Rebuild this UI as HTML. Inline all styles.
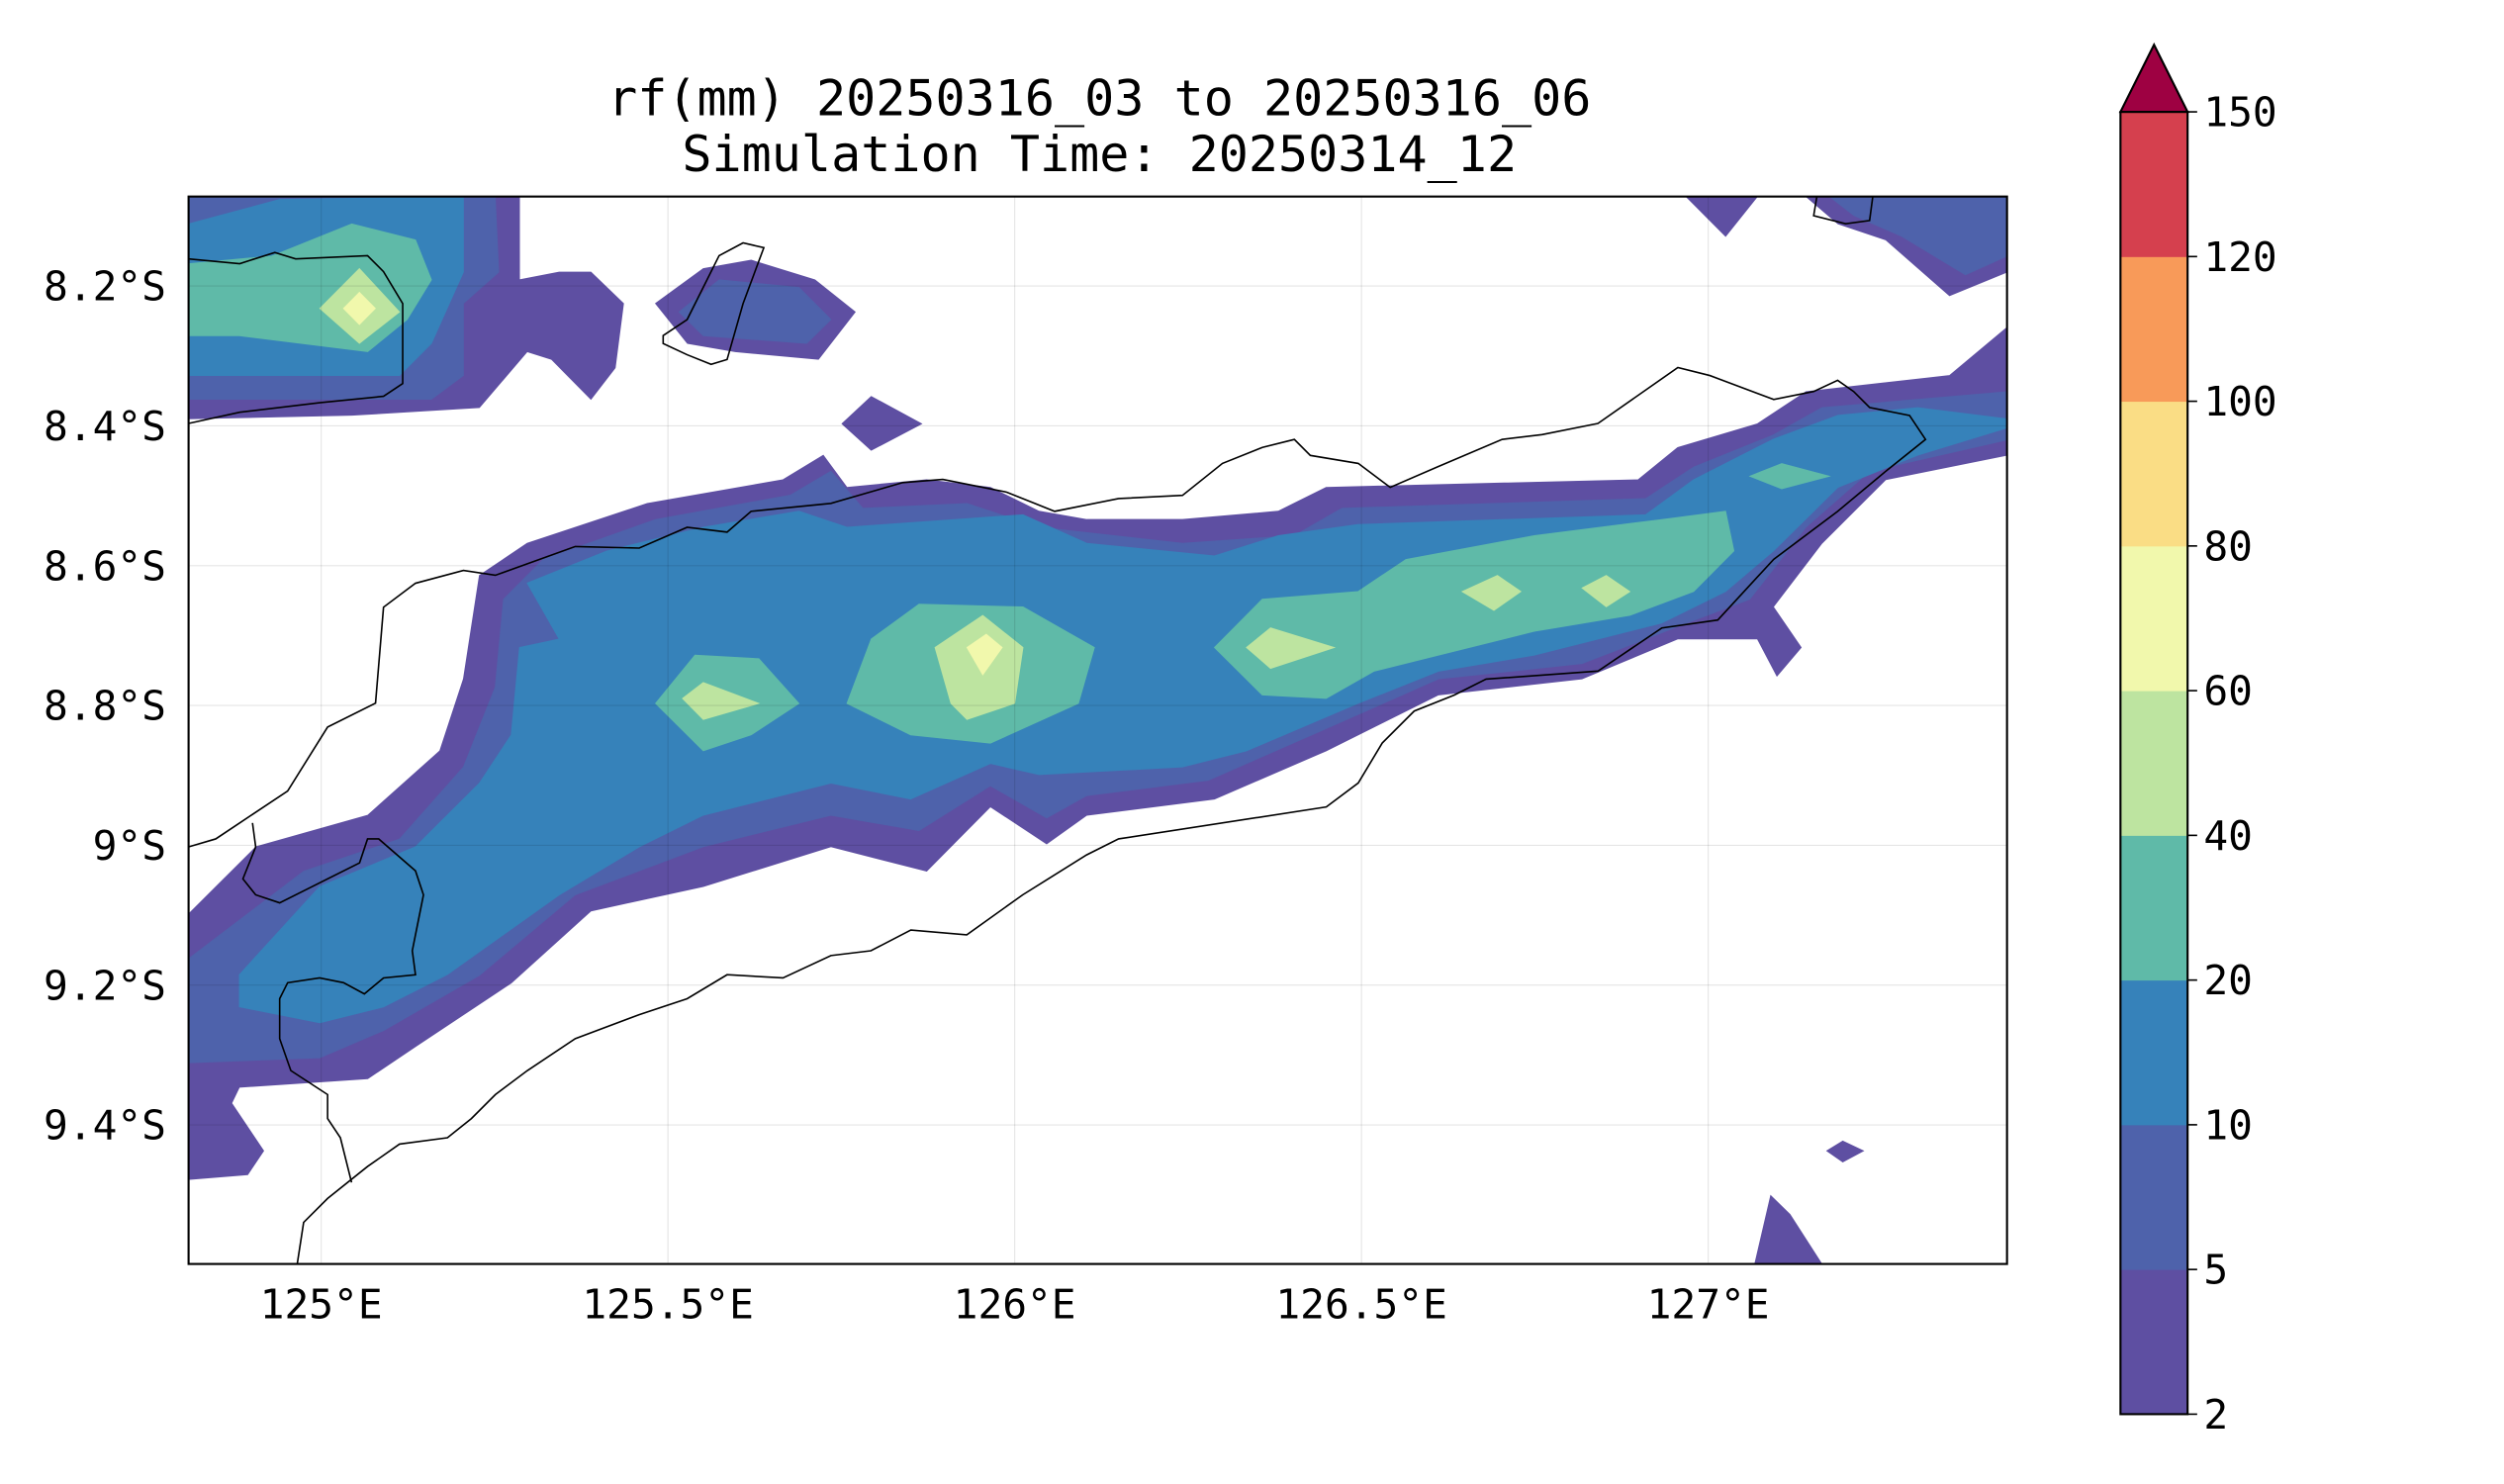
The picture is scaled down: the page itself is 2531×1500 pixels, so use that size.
<!DOCTYPE html>
<html><head><meta charset="utf-8">
<style>html,body{margin:0;padding:0;background:#fff;}svg{display:block;}text{font-family:"DejaVu Sans Mono","Liberation Mono",monospace;fill:#000;}</style>
</head><body>
<svg id="chart" width="2531" height="1500" viewBox="0 0 1567 928.7" xmlns="http://www.w3.org/2000/svg">
<text x="688" y="72" font-size="31" text-anchor="middle">rf(mm) 20250316_03 to 20250316_06</text>
<text x="688" y="107" font-size="31" text-anchor="middle">Simulation Time: 20250314_12</text>
<defs><clipPath id="plotclip"><rect x="118" y="123" width="1138" height="668"/></clipPath></defs>
<g id="fills" clip-path="url(#plotclip)"></g>
<g id="grid"></g>
<g clip-path="url(#plotclip)" fill="none" stroke="#000" stroke-width="1">
<path d="M118,530 L135,525 150,515 180,495 205,455 235,440 240,380 260,365 290,357 310,360 360,342 400,343 430,330 455,333 470,320 520,315 565,302 590,300 630,308 660,320 700,312 740,310 765,290 790,280 810,275 820,285 850,290 870,305 900,292 940,275 965,272 1000,265 1050,230 1070,235 1110,250 1135,245 1150,238 1160,245 1170,255 1195,260 1205,275 1180,295 1150,320 1110,350 1075,388 1040,393 1000,420 930,425 910,435 885,445 865,465 850,490 830,505 700,525 680,535 640,560 605,585 570,582 545,595 520,598 490,612 455,610 430,625 400,635 360,650 330,670 310,685 295,700 280,712 250,716 230,730 205,750 190,765 186,791"/>
<path d="M158,515 L160,530 152,550 160,560 175,565 195,555 225,540 230,525 237,525 260,545 265,560 258,595 260,610 240,612 228,622 215,615 200,612 180,615 175,625 175,650 182,670 205,685 205,700 213,712 220,740"/>
<path d="M118,162 L150,165 172,158 185,162 230,160 240,170 252,190 252,240 240,248 200,252 150,258 118,265"/>
<path d="M415,210 L430,200 450,160 465,152 478,155 465,190 455,225 445,228 430,222 415,215 Z"/>
<path d="M1137,123 L1135,135 1155,140 1170,138 1172,123"/>
</g>
<rect x="118" y="123" width="1138" height="668" fill="none" stroke="#000" stroke-width="1.3"/>
<g id="ticks"></g>
<g id="cbar"></g>
</svg>
<script>
const lonTicks=[125,125.5,126,126.5,127];
const lonLabels=["125°E","125.5°E","126°E","126.5°E","127°E"];
const latTicks=[8.2,8.4,8.6,8.8,9.0,9.2,9.4];
const latLabels=["8.2°S","8.4°S","8.6°S","8.8°S","9°S","9.2°S","9.4°S"];
const levels=[2,5,10,20,40,60,80,100,120,150];
const levelColors=["#5e4fa2","#4e62ab","#3682ba","#5fbaa8","#bde4a0","#f1f8ac","#fadd85","#f89a59","#d5404e"];
const extendColor="#9e0142";
const contourLevel2=[
[[124.809,9.098],[124.906,9.002],[125.067,8.957],[125.171,8.865],[125.205,8.762],[125.228,8.614],[125.297,8.568],[125.470,8.511],[125.666,8.477],[125.724,8.442],[125.758,8.488],[125.873,8.477],[125.965,8.488],[126.035,8.522],[126.104,8.534],[126.242,8.534],[126.380,8.522],[126.449,8.488],[126.899,8.477],[126.956,8.431],[127.071,8.397],[127.141,8.351],[127.348,8.328],[127.431,8.259],[127.431,8.442],[127.256,8.477],[127.164,8.568],[127.094,8.659],[127.134,8.717],[127.099,8.758],[127.071,8.705],[126.956,8.705],[126.818,8.762],[126.611,8.785],[126.449,8.865],[126.288,8.934],[126.104,8.957],[126.046,8.998],[125.965,8.945],[125.873,9.037],[125.735,9.002],[125.551,9.059],[125.389,9.094],[125.274,9.197],[125.136,9.288],[125.067,9.334],[124.882,9.346],[124.871,9.369],[124.917,9.437],[124.894,9.471],[124.809,9.478]],
[[124.809,8.072],[125.286,8.072],[125.286,8.191],[125.343,8.180],[125.389,8.180],[125.436,8.225],[125.424,8.317],[125.389,8.362],[125.332,8.305],[125.297,8.294],[125.228,8.374],[125.044,8.385],[124.809,8.390]],
[[125.482,8.225],[125.551,8.175],[125.620,8.163],[125.712,8.191],[125.770,8.237],[125.717,8.305],[125.597,8.294],[125.528,8.282]],
[[125.751,8.397],[125.793,8.358],[125.866,8.397],[125.793,8.435]],
[[126.968,8.072],[127.071,8.072],[127.025,8.129]],
[[127.141,8.072],[127.431,8.072],[127.431,8.180],[127.348,8.214],[127.256,8.134],[127.187,8.111]],
[[127.067,9.599],[127.090,9.501],[127.118,9.528],[127.164,9.599]],
[[127.171,9.437],[127.194,9.423],[127.224,9.437],[127.194,9.453]]
];
const contourLevel5=[
[[124.809,9.162],[124.975,9.037],[125.113,8.991],[125.205,8.888],[125.251,8.774],[125.263,8.648],[125.320,8.591],[125.482,8.534],[125.677,8.499],[125.735,8.465],[125.781,8.518],[125.931,8.511],[126.035,8.545],[126.242,8.568],[126.403,8.557],[126.472,8.518],[126.910,8.504],[126.979,8.459],[127.094,8.413],[127.164,8.374],[127.431,8.351],[127.431,8.420],[127.233,8.465],[127.141,8.545],[127.060,8.648],[126.956,8.687],[126.818,8.740],[126.611,8.762],[126.438,8.838],[126.279,8.907],[126.104,8.929],[126.046,8.961],[125.965,8.915],[125.862,8.979],[125.735,8.957],[125.551,9.002],[125.366,9.071],[125.228,9.186],[125.090,9.265],[124.998,9.304],[124.809,9.311]],
[[124.809,8.072],[125.251,8.072],[125.256,8.180],[125.205,8.225],[125.205,8.328],[125.159,8.362],[124.809,8.362]],
[[125.516,8.237],[125.574,8.191],[125.689,8.202],[125.735,8.248],[125.700,8.282],[125.551,8.271]],
[[127.175,8.072],[127.431,8.072],[127.431,8.157],[127.371,8.184],[127.279,8.129],[127.210,8.099]]
];
const contourLevel10=[
[[124.882,9.185],[124.998,9.059],[125.136,9.002],[125.228,8.911],[125.274,8.842],[125.286,8.717],[125.343,8.705],[125.297,8.625],[125.412,8.579],[125.551,8.545],[125.689,8.522],[125.758,8.545],[126.012,8.527],[126.104,8.568],[126.288,8.586],[126.380,8.557],[126.495,8.541],[126.910,8.527],[126.979,8.477],[127.094,8.419],[127.187,8.385],[127.302,8.374],[127.431,8.390],[127.431,8.403],[127.302,8.442],[127.187,8.488],[127.094,8.579],[127.025,8.637],[126.933,8.682],[126.749,8.728],[126.611,8.751],[126.495,8.797],[126.334,8.865],[126.242,8.888],[126.035,8.899],[125.965,8.883],[125.850,8.934],[125.735,8.911],[125.551,8.957],[125.459,9.002],[125.343,9.071],[125.182,9.185],[125.090,9.231],[124.998,9.254],[124.882,9.231]],
[[124.809,8.111],[124.940,8.076],[125.205,8.072],[125.205,8.180],[125.159,8.282],[125.113,8.328],[124.809,8.328]]
];
const contourLevel20=[
[[125.758,8.797],[125.793,8.705],[125.862,8.655],[126.012,8.659],[126.115,8.717],[126.092,8.797],[125.965,8.854],[125.850,8.842]],
[[125.482,8.797],[125.539,8.728],[125.631,8.733],[125.689,8.797],[125.620,8.842],[125.551,8.865]],
[[126.288,8.717],[126.357,8.648],[126.495,8.637],[126.564,8.591],[126.749,8.557],[126.933,8.534],[127.025,8.522],[127.037,8.579],[126.979,8.637],[126.887,8.671],[126.749,8.694],[126.611,8.728],[126.518,8.751],[126.449,8.790],[126.357,8.785]],
[[124.809,8.168],[124.929,8.157],[125.044,8.111],[125.136,8.134],[125.159,8.191],[125.124,8.248],[125.067,8.294],[124.882,8.271],[124.809,8.271]],
[[127.060,8.472],[127.106,8.454],[127.175,8.472],[127.106,8.490]]
];
const contourLevel40=[
[[125.885,8.717],[125.954,8.671],[126.012,8.717],[126.000,8.797],[125.931,8.820],[125.908,8.797]],
[[125.521,8.790],[125.551,8.767],[125.631,8.797],[125.551,8.820]],
[[126.334,8.717],[126.369,8.689],[126.461,8.717],[126.369,8.747]],
[[126.645,8.637],[126.696,8.614],[126.730,8.637],[126.691,8.664]],
[[126.818,8.632],[126.853,8.614],[126.887,8.637],[126.853,8.659]],
[[124.998,8.232],[125.055,8.175],[125.113,8.237],[125.055,8.282]]
];
const contourLevel60=[
[[125.931,8.717],[125.959,8.698],[125.982,8.717],[125.954,8.756]],
[[125.032,8.232],[125.055,8.209],[125.078,8.232],[125.055,8.255]]
];
const NS="http://www.w3.org/2000/svg";
function xs(lon){return 201+(lon-125)*434;}
function ys(lat){return 179+(lat-8.2)*437.5;}
const fills=document.getElementById('fills');
const layers=[contourLevel2,contourLevel5,contourLevel10,contourLevel20,contourLevel40,contourLevel60];
layers.forEach((layer,li)=>{
  layer.forEach((poly,pi)=>{
    const p=document.createElementNS(NS,'polygon');
    p.setAttribute('points',poly.map(q=>xs(q[0]).toFixed(1)+','+ys(q[1]).toFixed(1)).join(' '));
    p.setAttribute('fill',levelColors[li]);
    p.setAttribute('stroke',levelColors[li]);
    p.setAttribute('stroke-width','0.5');
    
    
    fills.appendChild(p);
  });
});
const grid=document.getElementById('grid'),ticks=document.getElementById('ticks');
lonTicks.forEach((v,i)=>{
  const l=document.createElementNS(NS,'line');
  l.setAttribute('x1',xs(v));l.setAttribute('x2',xs(v));l.setAttribute('y1',123);l.setAttribute('y2',791);
  l.setAttribute('stroke','#000');l.setAttribute('stroke-opacity','0.1');l.setAttribute('stroke-width','0.7');
  
  
  grid.appendChild(l);
  const t=document.createElementNS(NS,'text');
  t.setAttribute('x',xs(v));t.setAttribute('y',825);t.setAttribute('font-size','25.5');t.setAttribute('text-anchor','middle');
  t.textContent=lonLabels[i];
  
  
  ticks.appendChild(t);
});
latTicks.forEach((v,i)=>{
  const l=document.createElementNS(NS,'line');
  l.setAttribute('y1',ys(v));l.setAttribute('y2',ys(v));l.setAttribute('x1',118);l.setAttribute('x2',1256);
  l.setAttribute('stroke','#000');l.setAttribute('stroke-opacity','0.1');l.setAttribute('stroke-width','0.7');
  
  
  grid.appendChild(l);
  const t=document.createElementNS(NS,'text');
  t.setAttribute('x',104);t.setAttribute('y',ys(v)+9);t.setAttribute('font-size','25.5');t.setAttribute('text-anchor','end');
  t.textContent=latLabels[i];
  
  
  ticks.appendChild(t);
});
const cb=document.getElementById('cbar');
const cbTop=70,cbBot=885,cbX=1327,cbW=42;
function cy(i){return cbBot-i*(cbBot-cbTop)/(levels.length-1);}
levelColors.forEach((c,i)=>{
  const r=document.createElementNS(NS,'rect');
  r.setAttribute('x',cbX);r.setAttribute('y',cy(i+1));r.setAttribute('width',cbW);r.setAttribute('height',cy(i)-cy(i+1)+0.3);
  r.setAttribute('fill',c);
  
  
  cb.appendChild(r);
});
const tri=document.createElementNS(NS,'polygon');
tri.setAttribute('points',`${cbX},${cbTop} ${cbX+cbW/2},28 ${cbX+cbW},${cbTop}`);
tri.setAttribute('fill',extendColor);tri.setAttribute('stroke','#000');tri.setAttribute('stroke-width','1.3');


cb.appendChild(tri);
const fr=document.createElementNS(NS,'rect');
fr.setAttribute('x',cbX);fr.setAttribute('y',cbTop);fr.setAttribute('width',cbW);fr.setAttribute('height',cbBot-cbTop);
fr.setAttribute('fill','none');fr.setAttribute('stroke','#000');fr.setAttribute('stroke-width','1.3');


cb.appendChild(fr);
levels.forEach((v,i)=>{
  const l=document.createElementNS(NS,'line');
  l.setAttribute('x1',cbX+cbW);l.setAttribute('x2',cbX+cbW+6);l.setAttribute('y1',cy(i));l.setAttribute('y2',cy(i));
  l.setAttribute('stroke','#000');l.setAttribute('stroke-width','1');
  
  
  cb.appendChild(l);
  const t=document.createElementNS(NS,'text');
  t.setAttribute('x',cbX+cbW+10);t.setAttribute('y',cy(i)+9);t.setAttribute('font-size','25.5');
  t.textContent=v;
  
  
  cb.appendChild(t);
});
</script>
</body></html>
